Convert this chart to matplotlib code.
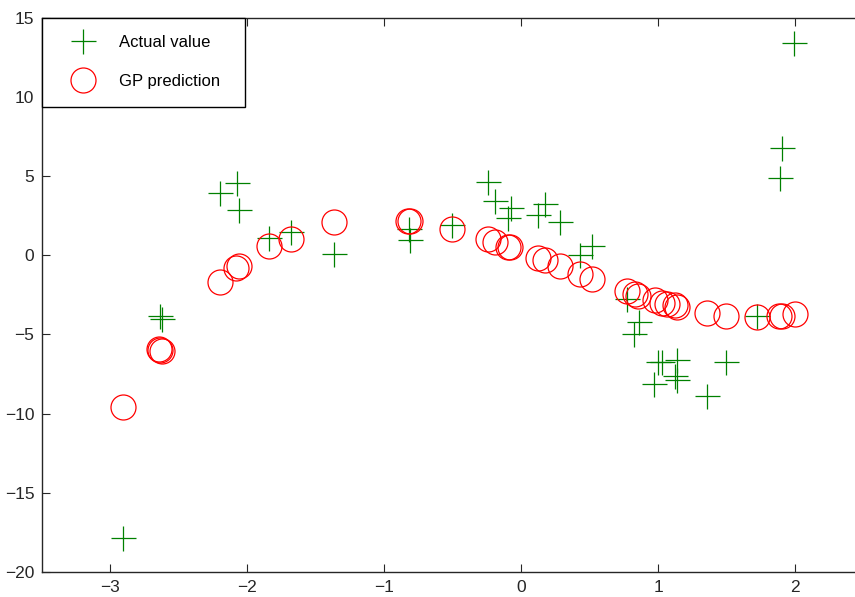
"""
GP regression result: actual values vs. GP predictions.
Saves out.png (855x597).
"""

import matplotlib
matplotlib.use("Agg")
import matplotlib.pyplot as plt

# ─────────────────────────────────────────────
# DATA
# ─────────────────────────────────────────────

actual_x = [-2.91, -2.64, -2.625, -2.20, -2.075, -2.06, -1.845, -1.68,
            -1.37, -0.82, -0.81, -0.506, -0.243, -0.195, -0.075, -0.10,
            0.126, 0.175, 0.285, 0.43, 0.516, 0.77, 0.861, 0.827,
            1.027, 1.00, 1.141, 1.124, 1.135, 0.971, 1.494, 1.358,
            1.725, 1.995, 1.903, 1.893]
actual_y = [-17.83, -3.85, -4.0, 3.94, 4.54, 2.83, 1.10, 1.48,
            0.06, 1.62, 0.95, 1.90, 4.60, 3.44, 2.95, 2.36,
            2.53, 3.23, 2.09, 0.0, 0.59, -2.79, -4.22, -4.96,
            -6.75, -6.75, -6.60, -7.66, -7.90, -8.12, -6.75, -8.88,
            -3.84, 13.4, 6.75, 4.85]

pred_x = [-2.905, -2.645, -2.635, -2.625, -2.20, -2.08, -2.06, -1.845,
          -1.68, -1.37, -0.83, -0.81, -0.506, -0.243, -0.19, -0.10,
          -0.08, 0.126, 0.175, 0.285, 0.43, 0.516, 0.77, 0.83,
          0.856, 0.978, 1.027, 1.068, 1.124, 1.14, 1.355, 1.494,
          1.725, 1.886, 1.903, 2.0]
pred_y = [-9.56, -5.95, -6.0, -6.05, -1.69, -0.78, -0.68, 0.59,
          1.05, 2.09, 2.17, 2.17, 1.66, 0.99, 0.84, 0.53,
          0.49, -0.15, -0.32, -0.70, -1.18, -1.48, -2.26, -2.47,
          -2.57, -2.85, -3.0, -3.1, -3.16, -3.27, -3.65, -3.82,
          -3.90, -3.84, -3.84, -3.69]

x_ticks = [-3, -2, -1, 0, 1, 2]
y_ticks = [-20, -15, -10, -5, 0, 5, 10, 15]

# ─────────────────────────────────────────────
# PLOT
# ─────────────────────────────────────────────

plt.rcParams["font.family"] = ["Liberation Sans", "DejaVu Sans"]

fig = plt.figure(figsize=(8.55, 5.97), dpi=100)
# right edge of the axes lies just outside the picture, as in the reference
ax = fig.add_axes([42 / 855, 25 / 597, 821.5 / 855, 554.5 / 597])

ax.plot(actual_x, actual_y, linestyle="none", marker="+", markersize=18,
        markeredgewidth=0.9, color="#008000", label="Actual value")
ax.plot(pred_x, pred_y, linestyle="none", marker="o", markersize=18,
        markeredgewidth=0.9, markerfacecolor="none", markeredgecolor="red",
        label="GP prediction")

ax.set_xlim(-3.5, 2.5)
ax.set_ylim(-20, 15)
ax.set_xticks(x_ticks)
ax.set_yticks(y_ticks)
ax.set_xticklabels([str(t).replace("-", "\u2212") for t in x_ticks])
ax.set_yticklabels([str(t).replace("-", "\u2212") for t in y_ticks])
ax.tick_params(direction="in", length=5.5, width=0.8, top=True, right=True,
               labelsize=12.5, pad=5.5, colors="#262626")
for sp in ax.spines.values():
    sp.set_linewidth(1.0)
    sp.set_color("#262626")

leg = ax.legend(loc="upper left", bbox_to_anchor=(0, 0, 203 / 821.5, 1),
                mode="expand", borderaxespad=0, fancybox=False,
                edgecolor="black", framealpha=1, fontsize=12, numpoints=1,
                borderpad=1.05, handlelength=2.8, handletextpad=0.75,
                labelspacing=1.45)
leg.get_frame().set_linewidth(1.0)

fig.savefig("out.png", dpi=100)
plt.close(fig)
